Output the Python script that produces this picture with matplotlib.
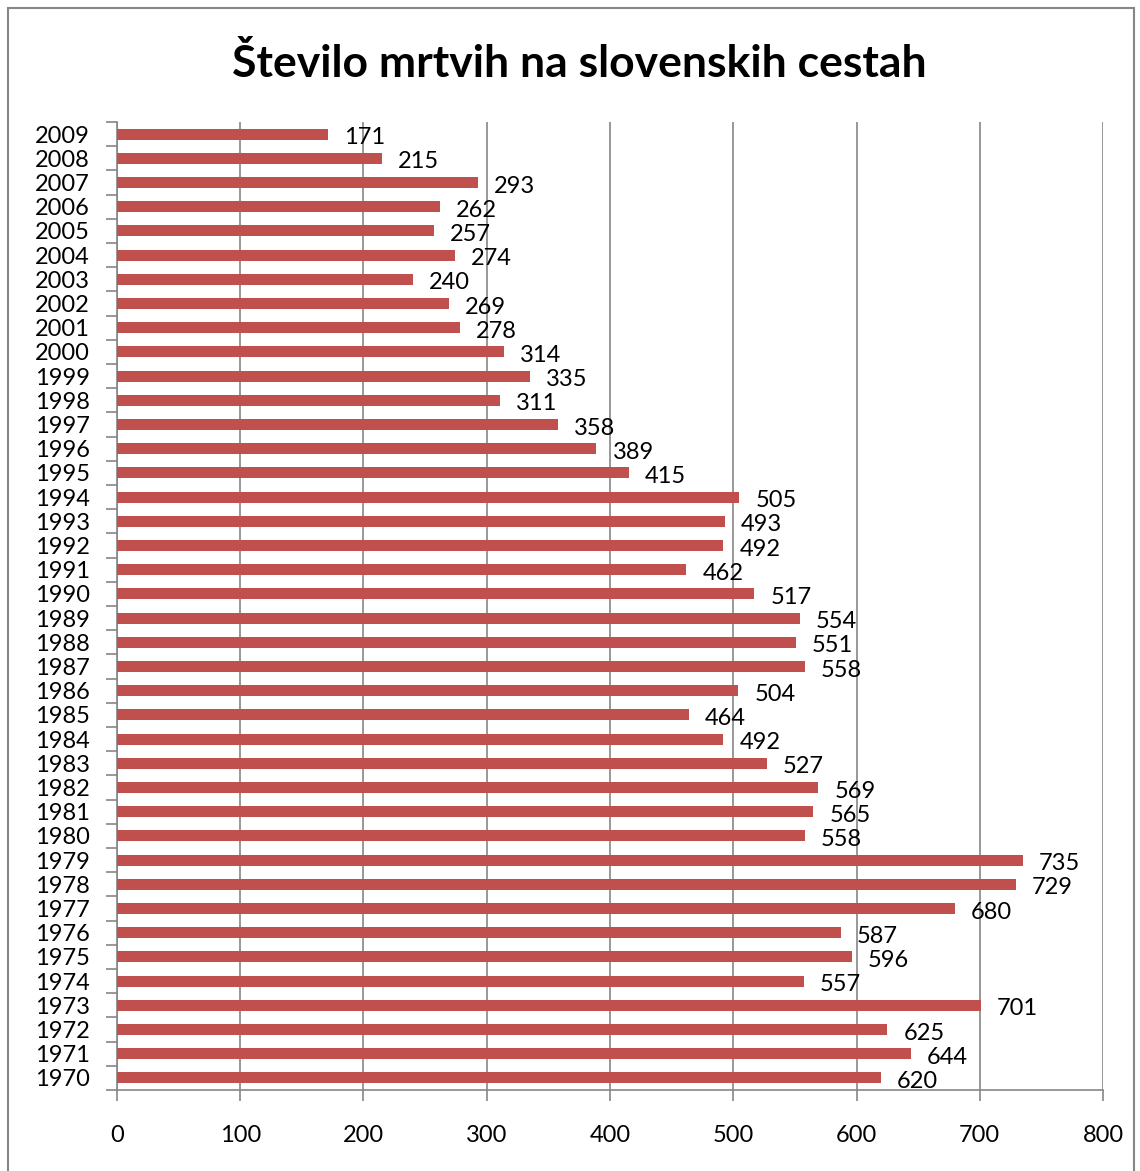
import matplotlib.pyplot as plt
import numpy as np
from matplotlib.patches import Rectangle

# Podatki
years = list(range(1970, 2010))
deaths = [620, 644, 625, 701, 557, 596, 587, 680, 729, 735,
          558, 565, 569, 527, 492, 464, 504, 558, 551, 554,
          517, 462, 492, 493, 505, 415, 389, 358, 311, 335,
          314, 278, 269, 240, 274, 257, 262, 293, 215, 171]
x_ticks = [0, 100, 200, 300, 400, 500, 600, 700, 800]
title = "Število mrtvih na slovenskih cestah"

plt.rcParams['font.family'] = ['Lato', 'DejaVu Sans']

fig = plt.figure(figsize=(11.4, 11.71), dpi=100)
ax = fig.add_axes([0.1026, 0.0692, 0.865, 0.8266])

pos = np.arange(len(years))
ax.barh(pos, deaths, height=0.45, color="#C0504D", zorder=3)

# oznake vrednosti
for p, v in zip(pos, deaths):
    ax.text(v + 13, p - 0.15, f"{v}", ha="left", va="center", fontsize=17, color="black", zorder=4)

ax.set_xlim(0, 800)
ax.set_ylim(-0.5, len(years) - 0.5)
ax.set_xticks(x_ticks)
ax.set_xticklabels([str(t) for t in x_ticks], fontsize=17)
ax.set_yticks(pos)
ax.set_yticklabels([str(y) for y in years], fontsize=17)
ax.tick_params(axis="y", length=0, pad=19.5)
ax.set_yticks(np.arange(-0.5, len(years), 1.0), minor=True)
ax.tick_params(axis="y", which="minor", length=8, color="#868686", width=1.2)
ax.tick_params(axis="x", length=8, color="#868686", width=1.2, pad=17)

ax.grid(axis="x", color="#868686", lw=1.2, zorder=0)
for s in ["top", "right"]:
    ax.spines[s].set_visible(False)
for s in ["left", "bottom"]:
    ax.spines[s].set_color("#868686")
    ax.spines[s].set_linewidth(1.2)

fig.text(0.508, 0.946, title, ha="center", va="center", fontsize=32, fontweight="bold")

# okvir grafa
fig.patches.append(Rectangle((0.007, -0.02), 0.988, 1.013, transform=fig.transFigure,
                             fill=False, ec="#868686", lw=1.5))

fig.savefig("out.png", dpi=100)
